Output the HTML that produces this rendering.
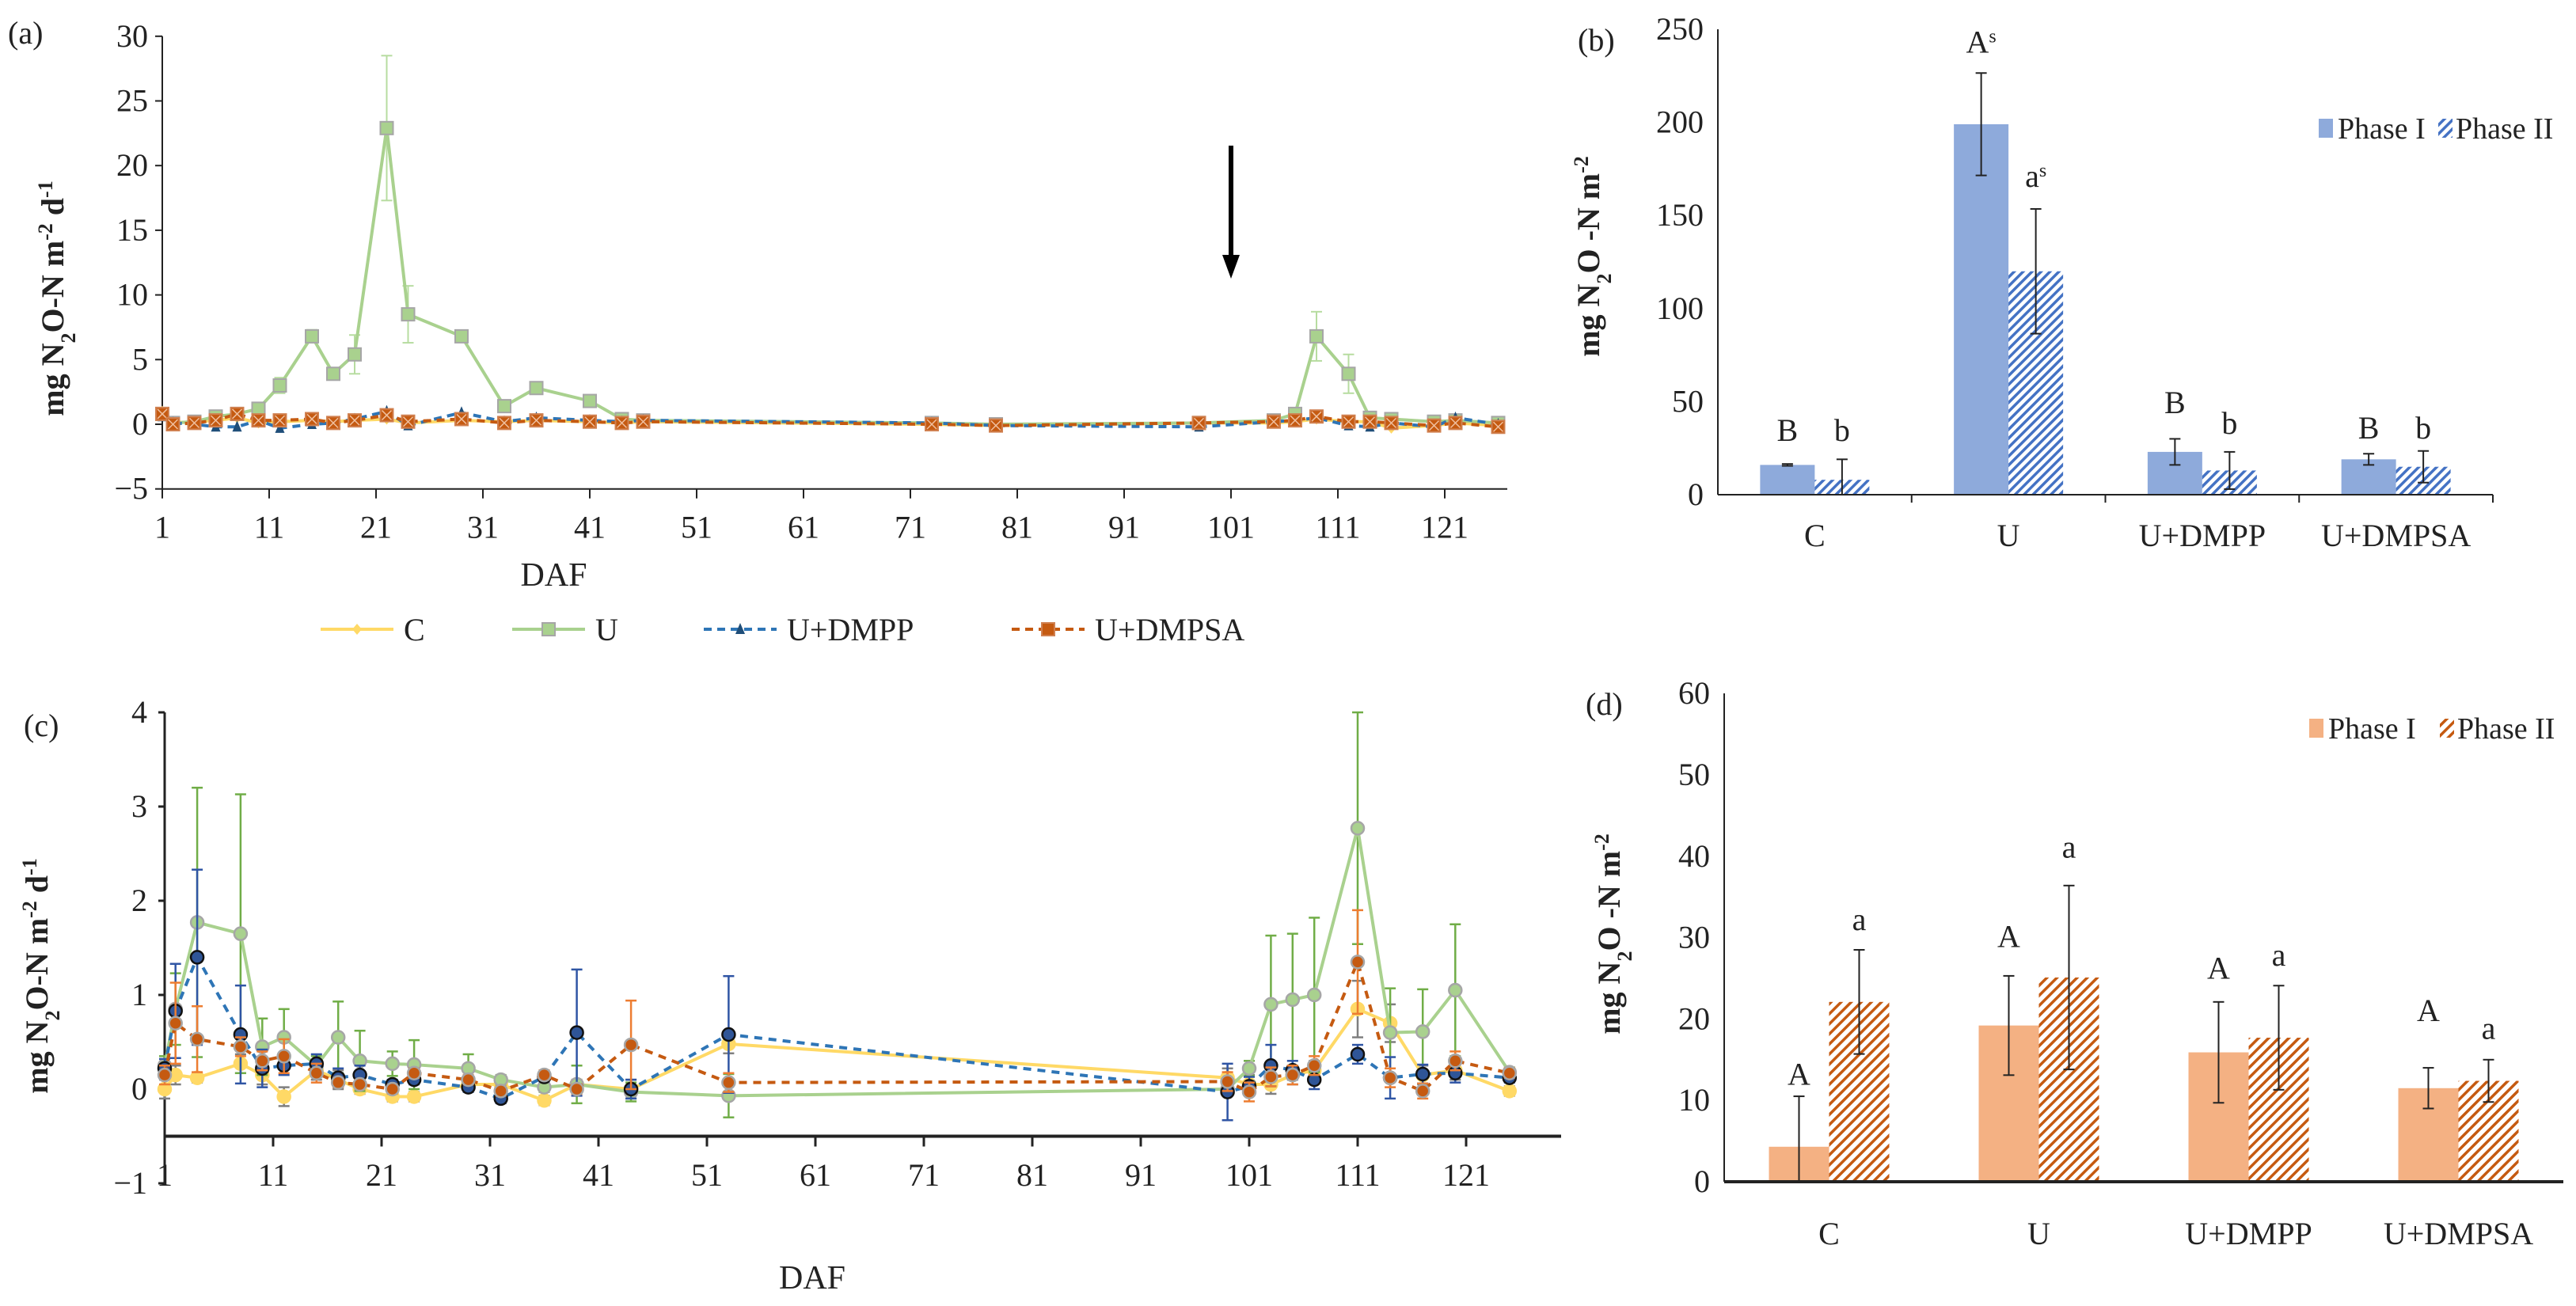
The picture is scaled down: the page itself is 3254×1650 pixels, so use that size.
<!DOCTYPE html>
<html><head><meta charset="utf-8"><style>
html,body{margin:0;padding:0;background:#fff;}
svg{display:block;font-family:"Liberation Serif",serif;}
</style></head><body>
<svg id="fig" width="3254" height="1650" viewBox="0 0 3254 1650" xmlns="http://www.w3.org/2000/svg">
<defs>
<pattern id="hatchBlue" patternUnits="userSpaceOnUse" width="8" height="8" patternTransform="rotate(45)">
<rect width="8" height="8" fill="#fff"/><rect width="3.5" height="8" fill="#4472c4"/></pattern>
<pattern id="hatchOrange" patternUnits="userSpaceOnUse" width="9" height="9" patternTransform="rotate(45)">
<rect width="9" height="9" fill="#fff"/><rect width="3.5" height="9" fill="#c55a11"/></pattern>
</defs>
<g id="pa"></g>
<g id="pb"></g>
<g id="pc"></g>
<g id="pd"></g>
<g id="leg"></g>
</svg>
<script>
// ---------- Panel (a) data ----------
const aDays = [1,2,4,6,8,10,12,15,17,19,22,24,29,33,36,41,44,46,73,79,98,105,107,109,112,114,116,120,122,126];
const aC     = [1.0,0.1,0.2,0.3,0.5,0.1,0.2,0.3,0.2,0.3,0.4,0.1,0.3,0.2,0.3,0.2,0.1,0.2,0.0,-0.1,0.1,0.1,0.2,0.4,0.2,0.2,-0.3,-0.1,0.1,-0.1];
const aU     = [0.8,0.1,0.2,0.6,0.8,1.2,3.0,6.8,3.9,5.4,22.9,8.5,6.8,1.4,2.8,1.8,0.4,0.3,0.1,0.0,0.1,0.3,0.8,6.8,3.9,0.5,0.4,0.2,0.3,0.1];
const aUerr  = [0.3,0.1,0.1,0.2,0.3,0.3,0.6,0.5,0.4,1.5,5.6,2.2,0.1,0.3,0.2,0.3,0.1,0.1,0.1,0.1,0.1,0.1,0.2,1.9,1.5,0.2,0.2,0.2,0.2,0.1];
const aDMPP  = [0.6,0.1,0.0,-0.2,-0.2,0.3,-0.3,0.0,0.1,0.4,1.0,-0.1,0.9,0.2,0.5,0.3,0.2,0.3,0.1,-0.1,-0.2,0.2,0.3,0.5,-0.1,-0.2,0.1,-0.2,0.5,0.0];
const aDMPSA = [0.8,0.0,0.1,0.3,0.8,0.3,0.3,0.4,0.1,0.3,0.7,0.2,0.4,0.1,0.3,0.2,0.1,0.2,0.0,-0.1,0.1,0.2,0.3,0.6,0.2,0.2,0.1,-0.1,0.1,-0.2];
const aYTicks = [30,25,20,15,10,5,0,-5];
const aXTicks = [1,11,21,31,41,51,61,71,81,91,101,111,121];

// ---------- Panel (c) data ----------
const cDays   = [1,2,4,8,10,12,15,17,19,22,24,29,32,36,39,44,53,99,101,103,105,107,111,114,117,120,125];
const cC      = [0.0,0.15,0.12,0.27,0.15,-0.08,0.2,0.1,0.0,-0.08,-0.08,0.05,0.05,-0.12,0.05,0.0,0.48,0.12,0.05,0.05,0.15,0.2,0.85,0.7,0.15,0.2,-0.02];
const cCerr   = [0.1,0.1,0.05,0.1,0.1,0.1,0.1,0.1,0.05,0.05,0.05,0.05,0.05,0.05,0.05,0.1,0.1,0.1,0.1,0.1,0.1,0.1,0.3,0.2,0.1,0.1,0.05];
const cU      = [0.25,0.85,1.77,1.65,0.45,0.55,0.25,0.55,0.3,0.27,0.26,0.22,0.1,0.02,0.05,-0.03,-0.07,0.0,0.22,0.9,0.95,1.0,2.77,0.6,0.61,1.05,0.18];
const cUerr   = [0.1,0.38,1.43,1.48,0.3,0.3,0.1,0.38,0.32,0.13,0.26,0.15,0.05,0.05,0.2,0.1,0.23,0.05,0.08,0.73,0.7,0.82,1.23,0.47,0.45,0.7,0.05];
const cDMPP   = [0.22,0.83,1.4,0.58,0.22,0.25,0.27,0.12,0.15,0.05,0.1,0.02,-0.1,0.13,0.6,0.0,0.58,-0.03,0.03,0.25,0.2,0.1,0.37,0.12,0.16,0.17,0.12];
const cDMPPerr= [0.1,0.5,0.93,0.52,0.2,0.1,0.1,0.1,0.1,0.05,0.05,0.05,0.05,0.05,0.67,0.1,0.62,0.3,0.1,0.22,0.1,0.1,0.1,0.22,0.1,0.1,0.05];
const cDMPSA  = [0.15,0.7,0.53,0.45,0.3,0.35,0.17,0.07,0.05,0.0,0.17,0.1,-0.02,0.15,0.0,0.47,0.07,0.08,-0.03,0.13,0.15,0.25,1.35,0.12,-0.02,0.3,0.17];
const cDMPSAerr=[0.1,0.43,0.35,0.1,0.1,0.18,0.1,0.05,0.05,0.05,0.05,0.05,0.05,0.05,0.05,0.47,0.1,0.1,0.1,0.1,0.1,0.1,0.55,0.1,0.08,0.1,0.05];
const cYTicks = [4,3,2,1,0,-1];
const cXTicks = [1,11,21,31,41,51,61,71,81,91,101,111,121];

// ---------- Panel (b) data ----------
const bCats = ["C","U","U+DMPP","U+DMPSA"];
const bP1 = [16,199,23,19];
const bP1err = [0.5,27.5,7,3];
const bP2 = [8,120,13,15];
const bP2err = [11,33.5,10,8.5];
const bP1Letters = ["B","A","B","B"];
const bP2Letters = ["b","a","b","b"];
const bP1LetterAt = [34.4,243,49.3,35.7];
const bP2LetterAt = [34.4,171,38.3,35.7];
const bSup1 = ["","s","",""];
const bSup2 = ["","s","",""];
const bYTicks = [0,50,100,150,200,250];

// ---------- Panel (d) data ----------
const dCats = ["C","U","U+DMPP","U+DMPSA"];
const dP1 = [4.3,19.2,15.9,11.5];
const dP1err = [6.2,6.1,6.2,2.5];
const dP2 = [22.1,25.1,17.7,12.4];
const dP2err = [6.4,11.3,6.4,2.6];
const dP1Letters = ["A","A","A","A"];
const dP2Letters = ["a","a","a","a"];
const dP1LetterAt = [13.2,30.1,26.2,21.0];
const dP2LetterAt = [32.2,41.1,27.8,18.8];
const dYTicks = [0,10,20,30,40,50,60];

const NS="http://www.w3.org/2000/svg";
function mk(parent, tag, attrs){const e=document.createElementNS(NS,tag);for(const k in attrs)e.setAttribute(k,attrs[k]);parent.appendChild(e);return e;}
function txt(parent, x, y, s, size, anchor, extra){const t=mk(parent,'text',Object.assign({x:x,y:y,'font-size':size,'text-anchor':anchor||'middle',fill:'#222'},extra||{}));t.textContent=s;return t;}

// ===== Panel (a) =====
(function(){
const g=document.getElementById('pa');
const X0=205, DX=13.5, Y0=536, DY=16.34;
const x=d=>X0+(d-1)*DX, y=v=>Y0-v*DY;
let lab=txt(g,10,55,'(a)',40,'start');


let ax=mk(g,'line',{x1:X0,y1:y(30),x2:X0,y2:y(-5),stroke:'#222','stroke-width':2});


let xa=mk(g,'line',{x1:X0,y1:y(-5),x2:1904,y2:y(-5),stroke:'#222','stroke-width':2});


aYTicks.forEach(v=>{mk(g,'line',{x1:X0-9,y1:y(v),x2:X0,y2:y(v),stroke:'#222','stroke-width':2});
 const t=txt(g,X0-18,y(v)+13,v<0?'\u2212'+(-v):String(v),40,'end');
 
 });
aXTicks.forEach(d=>{mk(g,'line',{x1:x(d),y1:y(-5),x2:x(d),y2:y(-5)+12,stroke:'#222','stroke-width':2});
 const t=txt(g,x(d),y(-5)+62,String(d),40);
 
 });
let xt=txt(g,X0+(1904-X0)/2-355,740,'DAF',42);


let yt=mk(g,'text',{transform:'translate(80,377) rotate(-90)','font-size':40,'font-weight':'bold','text-anchor':'middle',fill:'#222'});
yt.innerHTML='mg N<tspan baseline-shift="sub" font-size="26">2</tspan>O-N m<tspan baseline-shift="super" font-size="26">-2</tspan> d<tspan baseline-shift="super" font-size="26">-1</tspan>';


let ar=mk(g,'g',{});


mk(ar,'line',{x1:x(101),y1:184,x2:x(101),y2:330,stroke:'#000','stroke-width':6});
mk(ar,'polygon',{points:`${x(101)-11},322 ${x(101)+11},322 ${x(101)},352`,fill:'#000'});
function series(vals,color,dash,marker,name,err){
 const sg=mk(g,'g',{});
 
 
 if(err){aDays.forEach((d,i)=>{const e=err[i];mk(sg,'line',{x1:x(d),y1:y(vals[i]+e),x2:x(d),y2:y(vals[i]-e),stroke:'#b7dca0','stroke-width':2});
  mk(sg,'line',{x1:x(d)-7,y1:y(vals[i]+e),x2:x(d)+7,y2:y(vals[i]+e),stroke:'#b7dca0','stroke-width':2});
  mk(sg,'line',{x1:x(d)-7,y1:y(vals[i]-e),x2:x(d)+7,y2:y(vals[i]-e),stroke:'#b7dca0','stroke-width':2});});}
 const pts=aDays.map((d,i)=>x(d)+','+y(vals[i])).join(' ');
 mk(sg,'polyline',{points:pts,fill:'none',stroke:color,'stroke-width':4,'stroke-dasharray':dash||'none'});
 aDays.forEach((d,i)=>{const cx=x(d),cy=y(vals[i]);let m;
  if(marker==='sq') m=mk(sg,'rect',{x:cx-8,y:cy-8,width:16,height:16,fill:'#a9d18e',stroke:'#a6a6a6','stroke-width':2});
  else if(marker==='sqx'){m=mk(sg,'rect',{x:cx-8,y:cy-8,width:16,height:16,fill:'#c55a11',stroke:'#d08050','stroke-width':2});mk(sg,'path',{d:`M${cx-6} ${cy-6}L${cx+6} ${cy+6}M${cx+6} ${cy-6}L${cx-6} ${cy+6}`,stroke:'#f0c0a0','stroke-width':1.5});}
  else if(marker==='tri') m=mk(sg,'polygon',{points:`${cx-6},${cy+6} ${cx+6},${cy+6} ${cx},${cy-8}`,fill:'#1f4e79'});
  else m=mk(sg,'polygon',{points:`${cx},${cy-7} ${cx+6},${cy} ${cx},${cy+7} ${cx-6},${cy}`,fill:'#ffd966'});
  
  });
}
series(aC,'#ffd966',null,'dia','a-series-c');
series(aU,'#a9d18e',null,'sq','a-series-u',aUerr);
series(aDMPP,'#2e75b6','10 7','tri','a-series-u-dmpp');
series(aDMPSA,'#c55a11','10 7','sqx','a-series-u-dmpsa');
})();

// ===== Legend =====
(function(){
const g=document.getElementById('leg');const Y=795;
const items=[['C','#ffd966',null,405,510,'dia'],['U','#a9d18e',null,647,752,'sq'],['U+DMPP','#2e75b6','10 7',889,994,'tri'],['U+DMPSA','#c55a11','10 7',1278,1383,'sqx']];
items.forEach(it=>{const eg=mk(g,'g',{});
 
 
 mk(eg,'line',{x1:it[3],y1:Y,x2:it[3]+92,y2:Y,stroke:it[1],'stroke-width':4,'stroke-dasharray':it[2]||'none'});
 const cx=it[3]+46;
 if(it[5]==='sq')mk(eg,'rect',{x:cx-8,y:Y-8,width:16,height:16,fill:'#a9d18e',stroke:'#a6a6a6','stroke-width':2});
 else if(it[5]==='sqx')mk(eg,'rect',{x:cx-8,y:Y-8,width:16,height:16,fill:'#c55a11',stroke:'#d08050','stroke-width':2});
 else if(it[5]==='tri')mk(eg,'polygon',{points:`${cx-6},${Y+6} ${cx+6},${Y+6} ${cx},${Y-8}`,fill:'#1f4e79'});
 else mk(eg,'polygon',{points:`${cx},${Y-7} ${cx+6},${Y} ${cx},${Y+7} ${cx-6},${Y}`,fill:'#ffd966'});
 txt(eg,it[4],Y+14,it[0],40,'start');});
})();

// ===== Panel (c) =====
(function(){
const g=document.getElementById('pc');
const X0=208, DX=13.7, Y0=1376, DY=119;
const x=d=>X0+(d-1)*DX, y=v=>Y0-v*DY;
let lab=txt(g,30,930,'(c)',40,'start');


let ax=mk(g,'line',{x1:X0,y1:y(4),x2:X0,y2:y(-1),stroke:'#222','stroke-width':3});


let xa=mk(g,'line',{x1:X0,y1:y(-0.5),x2:1972,y2:y(-0.5),stroke:'#222','stroke-width':4});


cYTicks.forEach(v=>{mk(g,'line',{x1:X0-8,y1:y(v),x2:X0,y2:y(v),stroke:'#222','stroke-width':3});
 const t=txt(g,X0-22,y(v)+13,v<0?'\u2212'+(-v):String(v),40,'end');
 
 });
cXTicks.forEach(d=>{mk(g,'line',{x1:x(d),y1:y(-0.5),x2:x(d),y2:y(-0.5)+13,stroke:'#222','stroke-width':3});
 const t=txt(g,x(d),1498,String(d),40);
 
 });
let xt=txt(g,1026,1628,'DAF',42);


let yt=mk(g,'text',{transform:'translate(60,1233) rotate(-90)','font-size':40,'font-weight':'bold','text-anchor':'middle',fill:'#222'});
yt.innerHTML='mg N<tspan baseline-shift="sub" font-size="26">2</tspan>O-N m<tspan baseline-shift="super" font-size="26">-2</tspan> d<tspan baseline-shift="super" font-size="26">-1</tspan>';


function series(vals,err,color,ecolor,dash,fill,stroke,name){
 const sg=mk(g,'g',{});
 
 
 cDays.forEach((d,i)=>{const e=err[i],cx=x(d);
  mk(sg,'line',{x1:cx,y1:y(vals[i]+e),x2:cx,y2:y(vals[i]-e),stroke:ecolor,'stroke-width':2.5});
  mk(sg,'line',{x1:cx-7,y1:y(vals[i]+e),x2:cx+7,y2:y(vals[i]+e),stroke:ecolor,'stroke-width':2.5});
  mk(sg,'line',{x1:cx-7,y1:y(vals[i]-e),x2:cx+7,y2:y(vals[i]-e),stroke:ecolor,'stroke-width':2.5});});
 mk(sg,'polyline',{points:cDays.map((d,i)=>x(d)+','+y(vals[i])).join(' '),fill:'none',stroke:color,'stroke-width':4,'stroke-dasharray':dash||'none'});
 cDays.forEach((d,i)=>{const m=mk(sg,'circle',{cx:x(d),cy:y(vals[i]),r:8,fill:fill,stroke:stroke,'stroke-width':2.5});
  
  });
}
series(cC,cCerr,'#ffd966','#7f7f7f',null,'#ffd966','#ffd966','c-series-c');
series(cU,cUerr,'#a9d18e','#70ad47',null,'#a9d18e','#a6a6a6','c-series-u');
series(cDMPP,cDMPPerr,'#2e75b6','#2f55a4','10 8','#2f5597','#111','c-series-u-dmpp');
series(cDMPSA,cDMPSAerr,'#c55a11','#ed7d31','10 8','#c55a11','#a6a6a6','c-series-u-dmpsa');
})();

// ===== Bar panels =====
function barPanel(gid,opt){
const g=document.getElementById(gid);
const y=v=>opt.Y0-v*opt.DY;
const cw=(opt.XE-opt.X0)/opt.cats.length;
let lab=txt(g,opt.labX,opt.labY,opt.label,40,'start');


let ax=mk(g,'line',{x1:opt.X0,y1:opt.YT,x2:opt.X0,y2:opt.Y0,stroke:'#222','stroke-width':2});


opt.yTicks.forEach(v=>{const t=txt(g,opt.X0-18,y(v)+13,String(v),40,'end');
 
 });
let yt=mk(g,'text',{transform:`translate(${opt.ytX},${opt.ytY}) rotate(-90)`,'font-size':40,'font-weight':'bold','text-anchor':'middle',fill:'#222'});
yt.innerHTML='mg N<tspan baseline-shift="sub" font-size="26">2</tspan>O -N m<tspan baseline-shift="super" font-size="26">-2</tspan>';


opt.cats.forEach((c,i)=>{
 const cx=opt.X0+cw*(i+0.5);
 [[opt.p1,opt.p1e,opt.l1,opt.l1at,opt.s1,-1,opt.fill1],[opt.p2,opt.p2e,opt.l2,opt.l2at,opt.s2,0,opt.fill2]].forEach((s,k)=>{
  const bx=cx+s[5]*opt.bw;const v=s[0][i],e=s[1][i];
  const b=mk(g,'rect',{x:bx,y:y(v),width:opt.bw,height:y(0)-y(v),fill:s[6]});
  
  
  const ex=bx+opt.bw/2;
  const eg=mk(g,'g',{stroke:'#222','stroke-width':2});
  
  
  mk(eg,'line',{x1:ex,y1:y(v+e),x2:ex,y2:y(Math.max(v-e,0))});
  mk(eg,'line',{x1:ex-7,y1:y(v+e),x2:ex+7,y2:y(v+e)});
  if(v-e>0)mk(eg,'line',{x1:ex-7,y1:y(v-e),x2:ex+7,y2:y(v-e)});
  const t=txt(g,ex,y(s[3][i])+13,s[2][i],40);
  if(s[4][i]){const sp=mk(t,'tspan',{'baseline-shift':'super','font-size':24});sp.textContent=s[4][i];}
  
  
 });
 const t=txt(g,cx,opt.catY,c,40);
 
 
 if(opt.catTicks){mk(g,'line',{x1:opt.X0+cw*(i+1),y1:opt.Y0,x2:opt.X0+cw*(i+1),y2:opt.Y0+10,stroke:'#222','stroke-width':2});}
});
let xa=mk(g,'line',{x1:opt.X0,y1:opt.Y0,x2:opt.XE,y2:opt.Y0,stroke:'#222','stroke-width':opt.axW});


const lg=mk(g,'g',{});


mk(lg,'rect',{x:opt.legX,y:opt.legY-12,width:18,height:24,fill:opt.fill1});
txt(lg,opt.legX+24,opt.legY+13,'Phase I',38,'start');
mk(lg,'rect',{x:opt.legX2,y:opt.legY-12,width:18,height:24,fill:opt.fill2});
txt(lg,opt.legX2+22,opt.legY+13,'Phase II',38,'start');
}
barPanel('pb',{id:'b',label:'(b)',labX:1993,labY:64,X0:2170,XE:3149,Y0:625,YT:37,DY:2.352,bw:69,cats:bCats,
 p1:bP1,p1e:bP1err,p2:bP2,p2e:bP2err,l1:bP1Letters,l2:bP2Letters,l1at:bP1LetterAt,l2at:bP2LetterAt,s1:bSup1,s2:bSup2,
 yTicks:bYTicks,fill1:'#8eaadb',fill2:'url(#hatchBlue)',catY:690,catTicks:true,axW:2,ytX:2020,ytY:324,legX:2929,legX2:3080,legY:162});
barPanel('pd',{id:'d',label:'(d)',labX:2003,labY:903,X0:2178,XE:3238,Y0:1493,YT:876,DY:10.28,bw:76,cats:dCats,
 p1:dP1,p1e:dP1err,p2:dP2,p2e:dP2err,l1:dP1Letters,l2:dP2Letters,l1at:dP1LetterAt,l2at:dP2LetterAt,s1:["","","",""],s2:["","","",""],
 yTicks:dYTicks,fill1:'#f4b183',fill2:'url(#hatchOrange)',catY:1572,catTicks:false,axW:4,ytX:2046,ytY:1180,legX:2917,legX2:3082,legY:920});
</script>
</body></html>
